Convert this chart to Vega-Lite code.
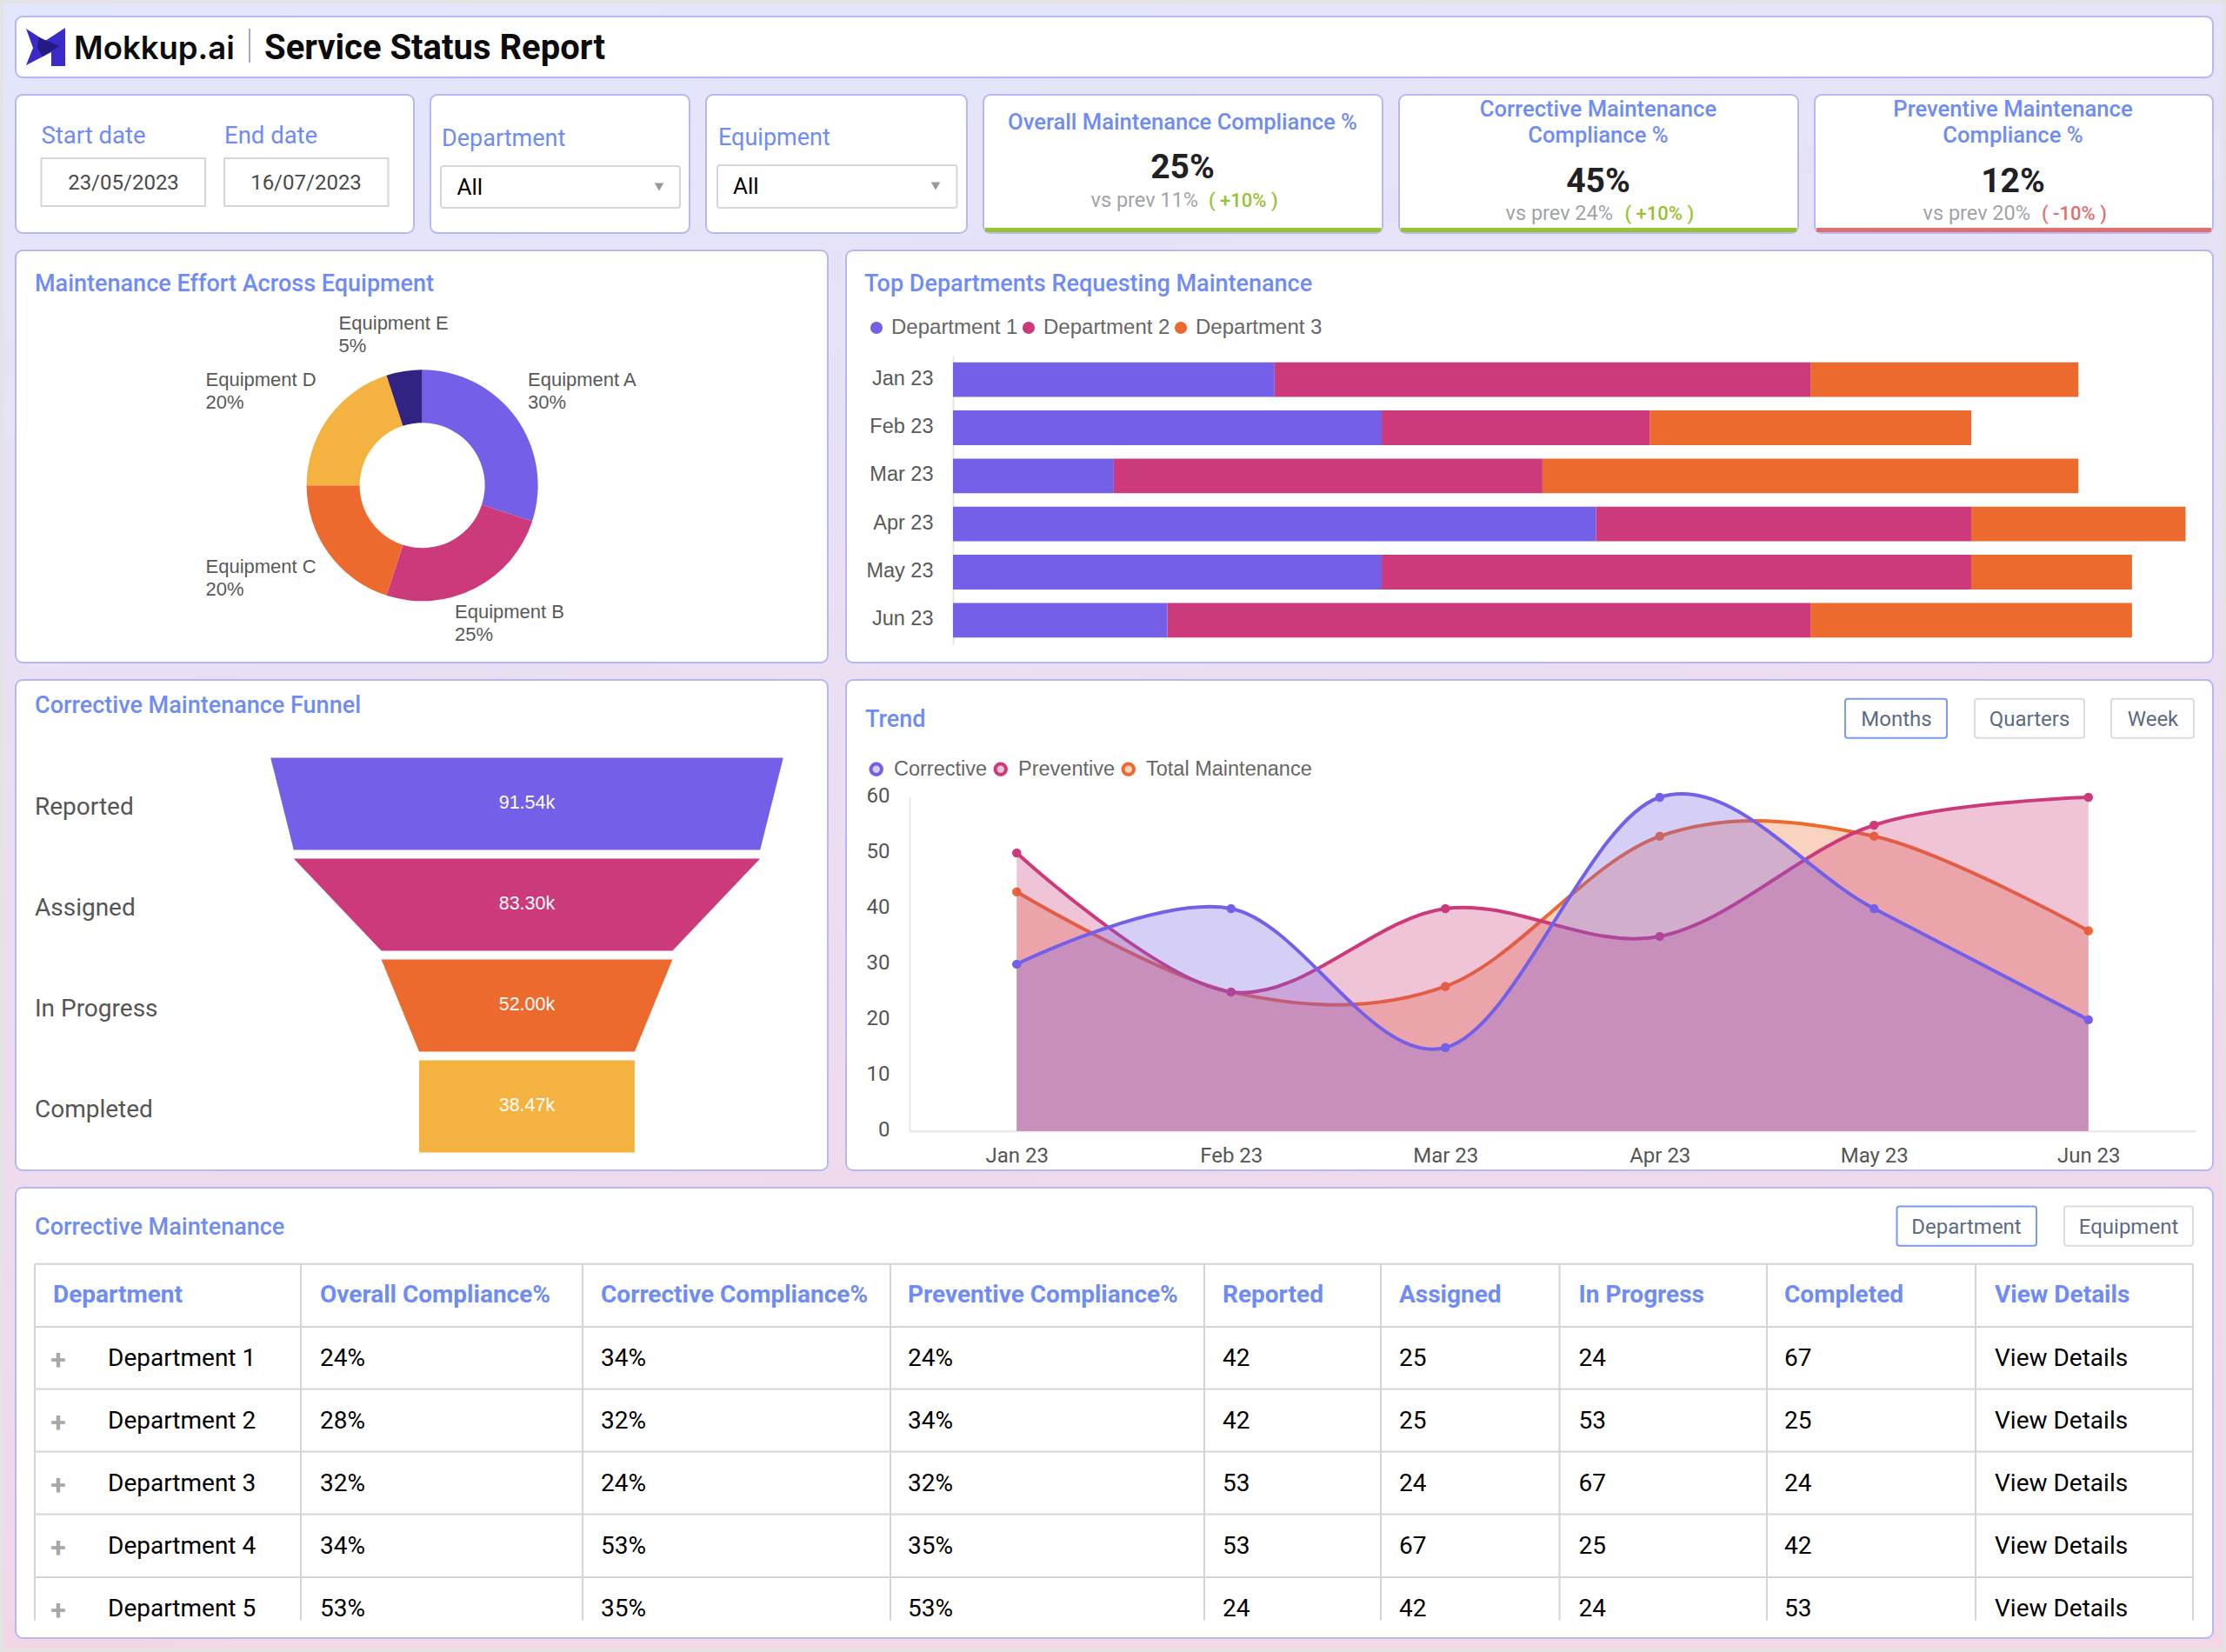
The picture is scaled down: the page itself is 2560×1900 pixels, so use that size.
{
"$schema":"https://vega.github.io/schema/vega-lite/v6.json",
"padding":0,
"autosize":{"type":"pad"},
"datasets":{
"equipment":[{"equipment":"Equipment A","share":30},{"equipment":"Equipment B","share":25},{"equipment":"Equipment C","share":20},{"equipment":"Equipment D","share":20},{"equipment":"Equipment E","share":5}],
"bars":[
{"month":"Jan 23","department":"Department 1","requests":30},{"month":"Jan 23","department":"Department 2","requests":50},{"month":"Jan 23","department":"Department 3","requests":25},
{"month":"Feb 23","department":"Department 1","requests":40},{"month":"Feb 23","department":"Department 2","requests":25},{"month":"Feb 23","department":"Department 3","requests":30},
{"month":"Mar 23","department":"Department 1","requests":15},{"month":"Mar 23","department":"Department 2","requests":40},{"month":"Mar 23","department":"Department 3","requests":50},
{"month":"Apr 23","department":"Department 1","requests":60},{"month":"Apr 23","department":"Department 2","requests":35},{"month":"Apr 23","department":"Department 3","requests":20},
{"month":"May 23","department":"Department 1","requests":40},{"month":"May 23","department":"Department 2","requests":55},{"month":"May 23","department":"Department 3","requests":15},
{"month":"Jun 23","department":"Department 1","requests":20},{"month":"Jun 23","department":"Department 2","requests":60},{"month":"Jun 23","department":"Department 3","requests":30}],
"funnel":[
{"stage":"Reported","level":0,"lo":-45.77,"hi":45.77},{"stage":"Reported","level":0.914,"lo":-41.65,"hi":41.65},
{"stage":"Assigned","level":1,"lo":-41.65,"hi":41.65},{"stage":"Assigned","level":1.914,"lo":-26,"hi":26},
{"stage":"In Progress","level":2,"lo":-26,"hi":26},{"stage":"In Progress","level":2.914,"lo":-19.24,"hi":19.24},
{"stage":"Completed","level":3,"lo":-19.24,"hi":19.24},{"stage":"Completed","level":3.914,"lo":-19.24,"hi":19.24}],
"funnelLabels":[{"stage":"Reported","value":"91.54k","level":0.5},{"stage":"Assigned","value":"83.30k","level":1.5},{"stage":"In Progress","value":"52.00k","level":2.5},{"stage":"Completed","value":"38.47k","level":3.5}],
"trend":[
{"month":"Jan 23","series":"Corrective","value":30},{"month":"Feb 23","series":"Corrective","value":40},{"month":"Mar 23","series":"Corrective","value":15},{"month":"Apr 23","series":"Corrective","value":60},{"month":"May 23","series":"Corrective","value":40},{"month":"Jun 23","series":"Corrective","value":20},
{"month":"Jan 23","series":"Preventive","value":50},{"month":"Feb 23","series":"Preventive","value":25},{"month":"Mar 23","series":"Preventive","value":40},{"month":"Apr 23","series":"Preventive","value":35},{"month":"May 23","series":"Preventive","value":55},{"month":"Jun 23","series":"Preventive","value":60},
{"month":"Jan 23","series":"Total Maintenance","value":43},{"month":"Feb 23","series":"Total Maintenance","value":25},{"month":"Mar 23","series":"Total Maintenance","value":26},{"month":"Apr 23","series":"Total Maintenance","value":53},{"month":"May 23","series":"Total Maintenance","value":53},{"month":"Jun 23","series":"Total Maintenance","value":36}],
"table":[
{"Department":"Department 1","Overall":"24%","Corrective":"34%","Preventive":"24%","Reported":"42","Assigned":"25","InProgress":"24","Completed":"67","Details":"View Details"},
{"Department":"Department 2","Overall":"28%","Corrective":"32%","Preventive":"34%","Reported":"42","Assigned":"25","InProgress":"53","Completed":"25","Details":"View Details"},
{"Department":"Department 3","Overall":"32%","Corrective":"24%","Preventive":"32%","Reported":"53","Assigned":"24","InProgress":"67","Completed":"24","Details":"View Details"},
{"Department":"Department 4","Overall":"34%","Corrective":"53%","Preventive":"35%","Reported":"53","Assigned":"67","InProgress":"25","Completed":"42","Details":"View Details"},
{"Department":"Department 5","Overall":"53%","Corrective":"35%","Preventive":"53%","Reported":"24","Assigned":"42","InProgress":"24","Completed":"53","Details":"View Details"}]
},
"spacing":18,
"bounds":"flush",
"resolve":{"scale":{"color":"independent"},"legend":{"color":"independent"}},
"vconcat":[
{"width":1,"height":1,"view":{"fill":null,"stroke":null},"data":{"values":[{}]},
"mark":{"type":"rect","stroke":"#e3e3e3","strokeWidth":4,"fill":{"gradient":"linear","x1":0,"y1":0,"x2":0.15,"y2":1,"stops":[{"offset":0,"color":"#e2e6fc"},{"offset":1,"color":"#f3d6e8"}]}},
"encoding":{"x":{"datum":0,"scale":{"domain":[0,1],"range":[2,2558],"nice":false}},"x2":{"datum":1},"y":{"datum":0,"scale":{"domain":[0,1],"range":[2,1898],"nice":false}},"y2":{"datum":1}}},
{"spacing":17,"bounds":"flush","resolve":{"scale":{"color":"independent"},"legend":{"color":"independent"}},"hconcat":[
{"width":1,"height":1,"view":{"fill":null,"stroke":null},"data":{"values":[]},"mark":"point"},
{"spacing":18,"bounds":"full","resolve":{"scale":{"color":"independent"},"legend":{"color":"independent"}},"vconcat":[
{"width":2527,"height":70,"data":{"values":[{}]},"layer":[
{"mark":{"type":"point","filled":true,"opacity":1,"size":8100,"color":"#3a2ac8","shape":"M-.5,-.467L-.011,-.156L.5,-.489L.5,.489L.144,.489L.144,.133L-.5,.467L-.322,.022Z"},"encoding":{"x":{"datum":34.5,"scale":{"domain":[0,2527],"nice":false}},"y":{"datum":35,"scale":{"domain":[70,0],"nice":false}}}},
{"mark":{"type":"point","filled":true,"opacity":1,"size":8100,"color":"#241a80","shape":"M-.167,-.244L.344,-.022L-.078,.244L-.211,.022Z"},"encoding":{"x":{"datum":34.5},"y":{"datum":35}}},
{"mark":{"type":"text","align":"left","font":"Inter","fontSize":36.5,"fontWeight":600,"color":"#0c0c0c"},"encoding":{"x":{"datum":67},"y":{"datum":49},"text":{"value":"Mokkup.ai"}}},
{"mark":{"type":"rule","color":"#8a8ab8","strokeWidth":1.5},"encoding":{"x":{"datum":269},"y":{"datum":14},"y2":{"datum":53}}},
{"mark":{"type":"text","align":"left","fontSize":40,"fontWeight":700,"color":"#0c0c0c"},"encoding":{"x":{"datum":286},"y":{"datum":49},"text":{"value":"Service Status Report"}}}
]},
{"spacing":19,"bounds":"flush","hconcat":[
{"width":458,"height":159,"data":{"values":[{}]},"layer":[
{"mark":{"type":"rect","fill":"white","stroke":"#d6d6d6","strokeWidth":2},"encoding":{"x":{"datum":29.5,"scale":{"domain":[0,458],"nice":false}},"x2":{"datum":218},"y":{"datum":73,"scale":{"domain":[159,0],"nice":false}},"y2":{"datum":128}}},
{"mark":{"type":"rect","fill":"white","stroke":"#d6d6d6","strokeWidth":2},"encoding":{"x":{"datum":240},"x2":{"datum":428.5},"y":{"datum":73},"y2":{"datum":128}}},
{"mark":{"type":"text","align":"left","fontSize":27.5,"color":"#6f8cf6"},"encoding":{"x":{"datum":29.5},"y":{"datum":56},"text":{"value":"Start date"}}},
{"mark":{"type":"text","align":"left","fontSize":27.5,"color":"#6f8cf6"},"encoding":{"x":{"datum":240},"y":{"datum":56},"text":{"value":"End date"}}},
{"mark":{"type":"text","fontSize":24,"color":"#4a4a4a"},"encoding":{"x":{"datum":124},"y":{"datum":109},"text":{"value":"23/05/2023"}}},
{"mark":{"type":"text","fontSize":24,"color":"#4a4a4a"},"encoding":{"x":{"datum":334},"y":{"datum":109},"text":{"value":"16/07/2023"}}}
]},
{"width":298,"height":159,"data":{"values":[{}]},"layer":[
{"mark":{"type":"rect","fill":"white","stroke":"#d6d6d6","strokeWidth":2,"cornerRadius":3},"encoding":{"x":{"datum":12,"scale":{"domain":[0,298],"nice":false}},"x2":{"datum":287},"y":{"datum":82,"scale":{"domain":[159,0],"nice":false}},"y2":{"datum":130}}},
{"mark":{"type":"text","align":"left","fontSize":27,"color":"#6f8cf6"},"encoding":{"x":{"datum":13},"y":{"datum":59},"text":{"value":"Department"}}},
{"mark":{"type":"text","align":"left","fontSize":26,"color":"#000000"},"encoding":{"x":{"datum":30.5},"y":{"datum":115},"text":{"value":"All"}}},
{"mark":{"type":"point","shape":"triangle-down","filled":true,"opacity":1,"size":110,"color":"#999999"},"encoding":{"x":{"datum":263},"y":{"datum":106}}}
]},
{"width":300,"height":159,"data":{"values":[{}]},"layer":[
{"mark":{"type":"rect","fill":"white","stroke":"#d6d6d6","strokeWidth":2,"cornerRadius":3},"encoding":{"x":{"datum":13,"scale":{"domain":[0,300],"nice":false}},"x2":{"datum":288.5},"y":{"datum":81,"scale":{"domain":[159,0],"nice":false}},"y2":{"datum":130}}},
{"mark":{"type":"text","align":"left","fontSize":27,"color":"#6f8cf6"},"encoding":{"x":{"datum":14},"y":{"datum":58},"text":{"value":"Equipment"}}},
{"mark":{"type":"text","align":"left","fontSize":26,"color":"#000000"},"encoding":{"x":{"datum":31},"y":{"datum":114},"text":{"value":"All"}}},
{"mark":{"type":"point","shape":"triangle-down","filled":true,"opacity":1,"size":110,"color":"#999999"},"encoding":{"x":{"datum":264},"y":{"datum":105}}}
]},
{"width":459,"height":159,"data":{"values":[{"title":"Overall Maintenance Compliance %","value":"25%","prev":"vs prev 11%","delta":"( +10% )"}]},"layer":[
{"mark":{"type":"rect","color":"#97c232"},"encoding":{"x":{"datum":2,"scale":{"domain":[0,459],"nice":false}},"x2":{"datum":457},"y":{"datum":153,"scale":{"domain":[159,0],"nice":false}},"y2":{"datum":158}}},
{"mark":{"type":"text","fontSize":25.6,"fontWeight":500,"color":"#6f8cf6"},"encoding":{"x":{"datum":229},"y":{"datum":40},"text":{"field":"title"}}},
{"mark":{"type":"text","fontSize":39,"fontWeight":700,"color":"#1f2125"},"encoding":{"x":{"datum":229},"y":{"datum":95.5},"text":{"field":"value"}}},
{"mark":{"type":"text","align":"right","fontSize":23.5,"color":"#a0a4a8"},"encoding":{"x":{"datum":247},"y":{"datum":128.7},"text":{"field":"prev"}}},
{"mark":{"type":"text","align":"left","fontSize":22,"fontWeight":500,"color":"#97c232"},"encoding":{"x":{"datum":259},"y":{"datum":128.7},"text":{"field":"delta"}}}
]},
{"width":459,"height":159,"data":{"values":[{"title":"Corrective Maintenance\nCompliance %","value":"45%","prev":"vs prev 24%","delta":"( +10% )"}]},"layer":[
{"mark":{"type":"rect","color":"#97c232"},"encoding":{"x":{"datum":2,"scale":{"domain":[0,459],"nice":false}},"x2":{"datum":457},"y":{"datum":153,"scale":{"domain":[159,0],"nice":false}},"y2":{"datum":158}}},
{"mark":{"type":"text","fontSize":25.6,"fontWeight":500,"color":"#6f8cf6","lineBreak":"\n","lineHeight":30},"encoding":{"x":{"datum":229},"y":{"datum":25},"text":{"field":"title"}}},
{"mark":{"type":"text","fontSize":39,"fontWeight":700,"color":"#1f2125"},"encoding":{"x":{"datum":229},"y":{"datum":111.5},"text":{"field":"value"}}},
{"mark":{"type":"text","align":"right","fontSize":23.5,"color":"#a0a4a8"},"encoding":{"x":{"datum":246},"y":{"datum":144},"text":{"field":"prev"}}},
{"mark":{"type":"text","align":"left","fontSize":22,"fontWeight":500,"color":"#97c232"},"encoding":{"x":{"datum":259.5},"y":{"datum":144},"text":{"field":"delta"}}}
]},
{"width":458,"height":159,"data":{"values":[{"title":"Preventive Maintenance\nCompliance %","value":"12%","prev":"vs prev 20%","delta":"( -10% )"}]},"layer":[
{"mark":{"type":"rect","color":"#e06f6f"},"encoding":{"x":{"datum":2,"scale":{"domain":[0,458],"nice":false}},"x2":{"datum":456},"y":{"datum":153,"scale":{"domain":[159,0],"nice":false}},"y2":{"datum":158}}},
{"mark":{"type":"text","fontSize":25.6,"fontWeight":500,"color":"#6f8cf6","lineBreak":"\n","lineHeight":30},"encoding":{"x":{"datum":228},"y":{"datum":25},"text":{"field":"title"}}},
{"mark":{"type":"text","fontSize":39,"fontWeight":700,"color":"#1f2125"},"encoding":{"x":{"datum":228},"y":{"datum":111.5},"text":{"field":"value"}}},
{"mark":{"type":"text","align":"right","fontSize":23.5,"color":"#a0a4a8"},"encoding":{"x":{"datum":248},"y":{"datum":144},"text":{"field":"prev"}}},
{"mark":{"type":"text","align":"left","fontSize":22,"fontWeight":500,"color":"#e06f6f"},"encoding":{"x":{"datum":261},"y":{"datum":144},"text":{"field":"delta"}}}
]}
]},
{"spacing":21,"bounds":"flush","resolve":{"scale":{"color":"independent"},"legend":{"color":"independent"}},"hconcat":[
{"width":934,"height":474,"title":{"text":"Maintenance Effort Across Equipment","dx":22,"offset":-53},"layer":[
{"data":{"name":"equipment"},"mark":{"type":"arc","radius":133,"radius2":72},"encoding":{"x":{"datum":467.6,"scale":{"domain":[0,934],"nice":false}},"y":{"datum":270.3,"scale":{"domain":[474,0],"nice":false}},"theta":{"field":"share","type":"quantitative","stack":true},"order":{"field":"equipment"},"color":{"field":"equipment","type":"nominal","legend":null,"scale":{"domain":["Equipment A","Equipment B","Equipment C","Equipment D","Equipment E"],"range":["#7460e8","#cc3a7c","#ec6a2e","#f4b340","#312383"]}}}},
{"data":{"values":[{"t":"Equipment A\n30%"}]},"mark":{"type":"text","align":"left","font":"Liberation Sans","fontSize":22,"lineBreak":"\n","lineHeight":26,"color":"#595959"},"encoding":{"x":{"datum":589},"y":{"datum":156},"text":{"field":"t"}}},
{"data":{"values":[{"t":"Equipment B\n25%"}]},"mark":{"type":"text","align":"left","font":"Liberation Sans","fontSize":22,"lineBreak":"\n","lineHeight":26,"color":"#595959"},"encoding":{"x":{"datum":505},"y":{"datum":423},"text":{"field":"t"}}},
{"data":{"values":[{"t":"Equipment C\n20%"}]},"mark":{"type":"text","align":"left","font":"Liberation Sans","fontSize":22,"lineBreak":"\n","lineHeight":26,"color":"#595959"},"encoding":{"x":{"datum":218.5},"y":{"datum":371},"text":{"field":"t"}}},
{"data":{"values":[{"t":"Equipment D\n20%"}]},"mark":{"type":"text","align":"left","font":"Liberation Sans","fontSize":22,"lineBreak":"\n","lineHeight":26,"color":"#595959"},"encoding":{"x":{"datum":218.5},"y":{"datum":156},"text":{"field":"t"}}},
{"data":{"values":[{"t":"Equipment E\n5%"}]},"mark":{"type":"text","align":"left","font":"Liberation Sans","fontSize":22,"lineBreak":"\n","lineHeight":26,"color":"#595959"},"encoding":{"x":{"datum":371.6},"y":{"datum":91},"text":{"field":"t"}}}
]},
{"width":1572,"height":474,"title":{"text":"Top Departments Requesting Maintenance","dx":21,"offset":-53},"data":{"name":"bars"},"mark":{"type":"bar"},"encoding":{
"x":{"field":"requests","type":"quantitative","stack":"zero","axis":null,"scale":{"domain":[0,115],"range":[123,1540.5],"nice":false}},
"y":{"field":"month","type":"nominal","title":null,"scale":{"domain":["Jan 23","Feb 23","Mar 23","Apr 23","May 23","Jun 23"],"range":[121,453],"paddingInner":0.28,"paddingOuter":0.14},"axis":{"disable":false,"title":null,"offset":-123,"labelPadding":23,"labelOffset":-1,"domainColor":"#e6e6e6","domainWidth":2,"labelFont":"Liberation Sans","labelFontSize":23.5,"labelColor":"#595959"}},
"order":{"field":"department"},
"color":{"field":"department","type":"nominal","scale":{"domain":["Department 1","Department 2","Department 3"],"range":["#7460e8","#cc3a7c","#ec6a2e"]},"legend":{"orient":"none","legendX":23,"legendY":77,"direction":"horizontal","columns":3,"title":null,"symbolType":"circle","symbolSize":200,"labelFont":"Liberation Sans","labelFontSize":24,"labelColor":"#666666","labelLimit":400,"labelOffset":5,"columnPadding":0,"symbolStrokeWidth":0}}
}}
]},
{"spacing":21,"bounds":"flush","resolve":{"scale":{"color":"independent"},"legend":{"color":"independent"}},"hconcat":[
{"width":934,"height":564,"title":{"text":"Corrective Maintenance Funnel","dx":22,"offset":-44},"layer":[
{"data":{"name":"funnel"},"mark":{"type":"area","orient":"horizontal"},"encoding":{"x":{"field":"lo","type":"quantitative","stack":null,"scale":{"domain":[-91.3,53.73],"nice":false}},"x2":{"field":"hi"},"y":{"field":"level","type":"quantitative","scale":{"domain":[0,3.914],"range":[89.4,543.4],"nice":false}},"color":{"field":"stage","type":"nominal","legend":null,"scale":{"domain":["Reported","Assigned","In Progress","Completed"],"range":["#7460e8","#cc3a7c","#ec6a2e","#f4b340"]}}}},
{"data":{"name":"funnelLabels"},"mark":{"type":"text","dy":1,"font":"Liberation Sans","fontSize":21.5,"color":"#ffffff"},"encoding":{"x":{"datum":0},"y":{"field":"level","type":"quantitative"},"text":{"field":"value"}}},
{"data":{"name":"funnelLabels"},"mark":{"type":"text","align":"left","dy":7.5,"fontSize":28,"color":"#555555"},"encoding":{"x":{"datum":-87.89},"y":{"field":"level","type":"quantitative"},"text":{"field":"stage"}}}
]},
{"width":1572,"height":564,"title":{"text":"Trend","dx":22,"offset":-60},"data":{"values":[{}]},"resolve":{"scale":{"x":"independent","y":"independent"}},"layer":[
{"data":{"name":"trend"},"encoding":{
"x":{"field":"month","type":"ordinal","title":null,"scale":{"type":"point","domain":["Jan 23","Feb 23","Mar 23","Apr 23","May 23","Jun 23"],"range":[73,1552],"padding":0.5},"axis":{"disable":false,"title":null,"orient":"bottom","offset":-45.2,"labelAngle":0,"labelPadding":16.5,"domainColor":"#e6e6e6","domainWidth":2,"labelFontSize":24,"labelColor":"#555555","labelFont":"Roboto"}},
"y":{"field":"value","type":"quantitative","title":null,"scale":{"domain":[0,60],"range":[518.8,135],"nice":false},"axis":{"disable":false,"title":null,"orient":"left","offset":-73,"values":[0,10,20,30,40,50,60],"labelPadding":23,"labelOffset":-1.5,"domainColor":"#e6e6e6","domainWidth":2,"labelFontSize":24,"labelColor":"#555555","labelFont":"Roboto"}},
"color":{"field":"series","type":"nominal","scale":{"domain":["Corrective","Preventive","Total Maintenance"],"range":["#7460e8","#cc3a7c","#ec6a2e"]},"legend":{"orient":"none","legendX":23,"legendY":91,"direction":"horizontal","columns":3,"title":null,"symbolType":"circle","symbolSize":154,"labelFont":"Liberation Sans","labelFontSize":23.5,"labelColor":"#666666","labelLimit":400,"labelOffset":8.5,"columnPadding":0,"encoding":{"symbols":{"stroke":{"value":{"signal":"datum.value === 'Corrective' ? '#7460e8' : datum.value === 'Preventive' ? '#cc3a7c' : '#ec6a2e'"}},"fillOpacity":{"value":0.3},"strokeWidth":{"value":4}}}}}
},"layer":[
{"transform":[{"filter":"datum.series === 'Total Maintenance'"}],"layer":[
{"mark":{"type":"area","interpolate":"cardinal","fillOpacity":0.3}},
{"mark":{"type":"line","interpolate":"cardinal","strokeWidth":4}},
{"mark":{"type":"point","filled":true,"opacity":1,"size":110}}]},
{"transform":[{"filter":"datum.series === 'Preventive'"}],"layer":[
{"mark":{"type":"area","interpolate":"cardinal","fillOpacity":0.3}},
{"mark":{"type":"line","interpolate":"cardinal","strokeWidth":4}},
{"mark":{"type":"point","filled":true,"opacity":1,"size":110}}]},
{"transform":[{"filter":"datum.series === 'Corrective'"}],"layer":[
{"mark":{"type":"area","interpolate":"cardinal","fillOpacity":0.3}},
{"mark":{"type":"line","interpolate":"cardinal","strokeWidth":4}},
{"mark":{"type":"point","filled":true,"opacity":1,"size":110}}]}
]},
{"layer":[
{"mark":{"type":"rect","fill":"white","stroke":"#7b9af0","strokeWidth":2,"cornerRadius":3},"encoding":{"x":{"datum":1149,"scale":{"domain":[0,1572],"nice":false}},"x2":{"datum":1266},"y":{"datum":21.7,"scale":{"domain":[564,0],"nice":false}},"y2":{"datum":66.8}}},
{"mark":{"type":"rect","fill":"white","stroke":"#dcdcdc","strokeWidth":2,"cornerRadius":3},"encoding":{"x":{"datum":1298},"x2":{"datum":1424},"y":{"datum":21.7},"y2":{"datum":66.8}}},
{"mark":{"type":"rect","fill":"white","stroke":"#dcdcdc","strokeWidth":2,"cornerRadius":3},"encoding":{"x":{"datum":1455},"x2":{"datum":1550},"y":{"datum":21.7},"y2":{"datum":66.8}}},
{"mark":{"type":"text","fontSize":24,"color":"#5d6b85"},"encoding":{"x":{"datum":1208},"y":{"datum":53},"text":{"value":"Months"}}},
{"mark":{"type":"text","fontSize":24,"color":"#5d6b85"},"encoding":{"x":{"datum":1361},"y":{"datum":53},"text":{"value":"Quarters"}}},
{"mark":{"type":"text","fontSize":24,"color":"#5d6b85"},"encoding":{"x":{"datum":1503},"y":{"datum":53},"text":{"value":"Week"}}}
]}
]}
]},
{"width":2527,"height":518,"title":{"text":"Corrective Maintenance","dx":22,"offset":-59.5},"data":{"values":[{}]},"resolve":{"scale":{"y":"independent"}},"layer":[
{"layer":[
{"mark":{"type":"rule","color":"#d4d4d4","strokeWidth":2},"encoding":{"x":{"datum":22,"scale":{"domain":[0,2527],"nice":false}},"y":{"datum":87.7,"scale":{"domain":[518,0],"nice":false}},"y2":{"datum":497.4}}},
{"mark":{"type":"rule","color":"#d4d4d4","strokeWidth":2},"encoding":{"x":{"datum":328},"y":{"datum":87.7},"y2":{"datum":497.4}}},
{"mark":{"type":"rule","color":"#d4d4d4","strokeWidth":2},"encoding":{"x":{"datum":652},"y":{"datum":87.7},"y2":{"datum":497.4}}},
{"mark":{"type":"rule","color":"#d4d4d4","strokeWidth":2},"encoding":{"x":{"datum":1006},"y":{"datum":87.7},"y2":{"datum":497.4}}},
{"mark":{"type":"rule","color":"#d4d4d4","strokeWidth":2},"encoding":{"x":{"datum":1367},"y":{"datum":87.7},"y2":{"datum":497.4}}},
{"mark":{"type":"rule","color":"#d4d4d4","strokeWidth":2},"encoding":{"x":{"datum":1570},"y":{"datum":87.7},"y2":{"datum":497.4}}},
{"mark":{"type":"rule","color":"#d4d4d4","strokeWidth":2},"encoding":{"x":{"datum":1775.5},"y":{"datum":87.7},"y2":{"datum":497.4}}},
{"mark":{"type":"rule","color":"#d4d4d4","strokeWidth":2},"encoding":{"x":{"datum":2014},"y":{"datum":87.7},"y2":{"datum":497.4}}},
{"mark":{"type":"rule","color":"#d4d4d4","strokeWidth":2},"encoding":{"x":{"datum":2254},"y":{"datum":87.7},"y2":{"datum":497.4}}},
{"mark":{"type":"rule","color":"#d4d4d4","strokeWidth":2},"encoding":{"x":{"datum":2504},"y":{"datum":87.7},"y2":{"datum":497.4}}},
{"mark":{"type":"rule","color":"#d4d4d4","strokeWidth":2},"encoding":{"x":{"datum":22},"x2":{"datum":2504},"y":{"datum":87.7}}},
{"mark":{"type":"rule","color":"#d4d4d4","strokeWidth":2},"encoding":{"x":{"datum":22},"x2":{"datum":2504},"y":{"datum":160}}},
{"mark":{"type":"rule","color":"#d4d4d4","strokeWidth":2},"encoding":{"x":{"datum":22},"x2":{"datum":2504},"y":{"datum":231.6}}},
{"mark":{"type":"rule","color":"#d4d4d4","strokeWidth":2},"encoding":{"x":{"datum":22},"x2":{"datum":2504},"y":{"datum":303.6}}},
{"mark":{"type":"rule","color":"#d4d4d4","strokeWidth":2},"encoding":{"x":{"datum":22},"x2":{"datum":2504},"y":{"datum":375.5}}},
{"mark":{"type":"rule","color":"#d4d4d4","strokeWidth":2},"encoding":{"x":{"datum":22},"x2":{"datum":2504},"y":{"datum":447.9}}},
{"mark":{"type":"rect","fill":"white","stroke":"#7b9af0","strokeWidth":2,"cornerRadius":3},"encoding":{"x":{"datum":2163.5},"x2":{"datum":2324},"y":{"datum":21.5},"y2":{"datum":66.7}}},
{"mark":{"type":"rect","fill":"white","stroke":"#dcdcdc","strokeWidth":2,"cornerRadius":3},"encoding":{"x":{"datum":2356},"x2":{"datum":2504},"y":{"datum":21.5},"y2":{"datum":66.7}}},
{"mark":{"type":"text","fontSize":24,"color":"#5d6b85"},"encoding":{"x":{"datum":2243.5},"y":{"datum":53},"text":{"value":"Department"}}},
{"mark":{"type":"text","fontSize":24,"color":"#5d6b85"},"encoding":{"x":{"datum":2430},"y":{"datum":53},"text":{"value":"Equipment"}}},
{"mark":{"type":"text","align":"left","fontSize":28,"fontWeight":700,"color":"#6f8cf6"},"encoding":{"x":{"datum":43},"y":{"datum":132.4},"text":{"value":"Department"}}},
{"mark":{"type":"text","align":"left","fontSize":28,"fontWeight":700,"color":"#6f8cf6"},"encoding":{"x":{"datum":350},"y":{"datum":132.4},"text":{"value":"Overall Compliance%"}}},
{"mark":{"type":"text","align":"left","fontSize":28,"fontWeight":700,"color":"#6f8cf6"},"encoding":{"x":{"datum":673},"y":{"datum":132.4},"text":{"value":"Corrective Compliance%"}}},
{"mark":{"type":"text","align":"left","fontSize":28,"fontWeight":700,"color":"#6f8cf6"},"encoding":{"x":{"datum":1026},"y":{"datum":132.4},"text":{"value":"Preventive Compliance%"}}},
{"mark":{"type":"text","align":"left","fontSize":28,"fontWeight":700,"color":"#6f8cf6"},"encoding":{"x":{"datum":1388},"y":{"datum":132.4},"text":{"value":"Reported"}}},
{"mark":{"type":"text","align":"left","fontSize":28,"fontWeight":700,"color":"#6f8cf6"},"encoding":{"x":{"datum":1591},"y":{"datum":132.4},"text":{"value":"Assigned"}}},
{"mark":{"type":"text","align":"left","fontSize":28,"fontWeight":700,"color":"#6f8cf6"},"encoding":{"x":{"datum":1797.6},"y":{"datum":132.4},"text":{"value":"In Progress"}}},
{"mark":{"type":"text","align":"left","fontSize":28,"fontWeight":700,"color":"#6f8cf6"},"encoding":{"x":{"datum":2034},"y":{"datum":132.4},"text":{"value":"Completed"}}},
{"mark":{"type":"text","align":"left","fontSize":28,"fontWeight":700,"color":"#6f8cf6"},"encoding":{"x":{"datum":2276},"y":{"datum":132.4},"text":{"value":"View Details"}}}
]},
{"data":{"name":"table"},"encoding":{"y":{"field":"Department","type":"nominal","scale":{"type":"point","domain":["Department 1","Department 2","Department 3","Department 4","Department 5"],"range":[204.7,492.6],"padding":0}}},"layer":[
{"mark":{"type":"text","align":"center","dy":4.5,"fontSize":32,"fontWeight":700,"color":"#a8a8a8"},"encoding":{"x":{"datum":49},"text":{"value":"+"}}},
{"encoding":{"x":{"datum":106},"text":{"field":"Department"}},"mark":{"type":"text","align":"left","fontSize":28,"color":"#000000"}},
{"encoding":{"x":{"datum":350},"text":{"field":"Overall"}},"mark":{"type":"text","align":"left","fontSize":28,"color":"#000000"}},
{"encoding":{"x":{"datum":673},"text":{"field":"Corrective"}},"mark":{"type":"text","align":"left","fontSize":28,"color":"#000000"}},
{"encoding":{"x":{"datum":1026},"text":{"field":"Preventive"}},"mark":{"type":"text","align":"left","fontSize":28,"color":"#000000"}},
{"encoding":{"x":{"datum":1388},"text":{"field":"Reported"}},"mark":{"type":"text","align":"left","fontSize":28,"color":"#000000"}},
{"encoding":{"x":{"datum":1591},"text":{"field":"Assigned"}},"mark":{"type":"text","align":"left","fontSize":28,"color":"#000000"}},
{"encoding":{"x":{"datum":1797.6},"text":{"field":"InProgress"}},"mark":{"type":"text","align":"left","fontSize":28,"color":"#000000"}},
{"encoding":{"x":{"datum":2034},"text":{"field":"Completed"}},"mark":{"type":"text","align":"left","fontSize":28,"color":"#000000"}},
{"encoding":{"x":{"datum":2276},"text":{"field":"Details"}},"mark":{"type":"text","align":"left","fontSize":28,"color":"#000000"}}
]}
]}
]}
]}
],
"config":{
"font":"Roboto",
"background":"#e8e3f5",
"axis":{"disable":true,"grid":false,"ticks":false,"title":null},
"view":{"fill":"white","stroke":"#b7b7f3","strokeWidth":2,"cornerRadius":8},
"text":{"baseline":"alphabetic","font":"Roboto"},
"title":{"anchor":"start","frame":"group","baseline":"alphabetic","font":"Roboto","fontSize":27,"fontWeight":500,"color":"#6f8cf6"}
}
}
